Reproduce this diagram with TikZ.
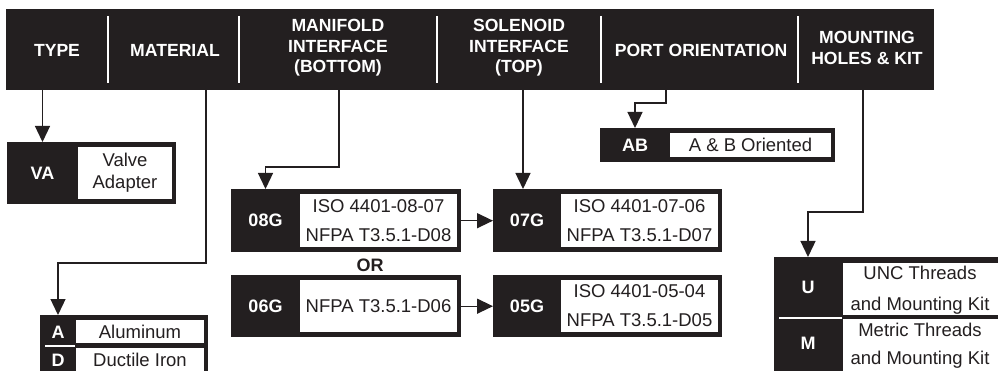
\documentclass[tikz,border=0pt]{standalone}
\usepackage{fontspec}
\setmainfont{Liberation Sans}
\usetikzlibrary{arrows.meta}
\definecolor{ink}{HTML}{231F20}
\begin{document}
\begin{tikzpicture}[x=1pt, y=-1pt,
    blk/.style={fill=ink, inner sep=0pt, anchor=north west},
    hlab/.style={text=white, font=\fontsize{17.6}{20.5}\selectfont\bfseries, align=center},
    code/.style={text=white, font=\fontsize{18}{20}\selectfont\bfseries},
    opt/.style={text=ink, font=\fontsize{18.5}{20}\selectfont, align=center},
    arr/.style={draw=ink, line width=1.3pt, -{Triangle[length=16pt,width=15pt]}}]
    \useasboundingbox (0,0) rectangle (998,371);
    \clip (0,0) rectangle (998,371);
    % header bar
    \node[blk, minimum width=928pt, minimum height=81pt] (hdr) at (6,9) {};
    \foreach \x in {108,239,437,601,798} \draw[white, line width=2.5pt] (\x,16) -- (\x,83);
    \node[hlab] (hType) at (57,50) {TYPE};
    \node[hlab] (hMat) at (175,50) {MATERIAL};
    \node[hlab] (hMan) at (338,48) {MANIFOLD\\INTERFACE\\(BOTTOM)};
    \node[hlab] (hSol) at (519,48) {SOLENOID\\INTERFACE\\(TOP)};
    \node[hlab] (hPort) at (701,50) {PORT ORIENTATION};
    \node[hlab] (hMnt) at (867,48) {MOUNTING\\HOLES \& KIT};
    \coordinate (tMat) at (206,90); \coordinate (tMan) at (339,90);
    \coordinate (tSol) at (523,90); \coordinate (tPort) at (666,90);
    \coordinate (tMnt) at (863,90);
    % single option boxes
    \foreach \n/\xa/\ya/\xb/\yb/\xs/\cd/\txt in {
        va/7/142/176/204/78/VA/{Valve\\[2pt]Adapter},
        ab/600/128/835/162/670/AB/{A \& B Oriented},
        g08/231/189/461/252/300/08G/{ISO 4401-08-07\\[9pt]NFPA T3.5.1-D08},
        g07/493/189/722/252/561/07G/{ISO 4401-07-06\\[9pt]NFPA T3.5.1-D07},
        g06/231/275/461/337/300/06G/{NFPA T3.5.1-D06},
        g05/493/275/722/337/561/05G/{ISO 4401-05-04\\[9pt]NFPA T3.5.1-D05}} {
        \node[blk, minimum width={(\xb-\xa)*1pt}, minimum height={(\yb-\ya)*1pt}] (\n) at (\xa,\ya) {};
        \fill[white] (\xs,\ya+5) rectangle (\xb-4,\yb-5);
        \node[code] (c\n) at ({(\xa+\xs)/2},{(\ya+\yb)/2}) {\cd};
        \node[opt] at ({(\xs+\xb-4)/2},{(\ya+\yb)/2}) {\txt};
    }
    \node[code, text=ink] (or) at (370,265) {OR};
    % material box
    \node[blk, minimum width=168pt, minimum height=70pt] (ad) at (40,315) {};
    \fill[white] (76,320) rectangle (204,343);
    \fill[white] (76,348) rectangle (204,380);
    \draw[white, line width=2pt] (45,345.5) -- (75,345.5);
    \node[code] (cA) at (58,332) {A};
    \node[opt] at (140,332) {Aluminum};
    \node[code] (cD) at (58,360) {D};
    \node[opt] at (140,360) {Ductile Iron};
    % mounting box
    \node[blk, minimum width=230pt, minimum height=120pt] (um) at (774,257) {};
    \fill[white] (843,263) rectangle (1004,315);
    \fill[white] (843,319) rectangle (1004,380);
    \draw[white, line width=2pt] (779,317.5) -- (842,317.5);
    \node[code] (cU) at (808,287) {U};
    \node[opt] at (920,290.5) {UNC Threads\\[11pt]and Mounting Kit};
    \node[code] (cM) at (808,343) {M};
    \node[opt] at (920,346) {Metric Threads\\[8pt]and Mounting Kit};
    % connectors
    \draw[arr] (hdr.south -| cva) -- (va.north -| cva);
    \draw[arr] (tMat) -- ++(0,173) -| (ad.north -| cA);
    \draw[arr] (tMan) -- ++(0,77) -| (g08.north -| cg08);
    \draw[arr] (tSol) -- (tSol |- g07.north);
    \draw[arr] (tPort) -- ++(0,13) -| (ab.north -| cab);
    \draw[arr] (tMnt) -- ++(0,122) -| (um.north -| cU);
    \draw[arr] (g08) -- (g07);
    \draw[arr] (g06) -- (g05);
\end{tikzpicture}
\end{document}
